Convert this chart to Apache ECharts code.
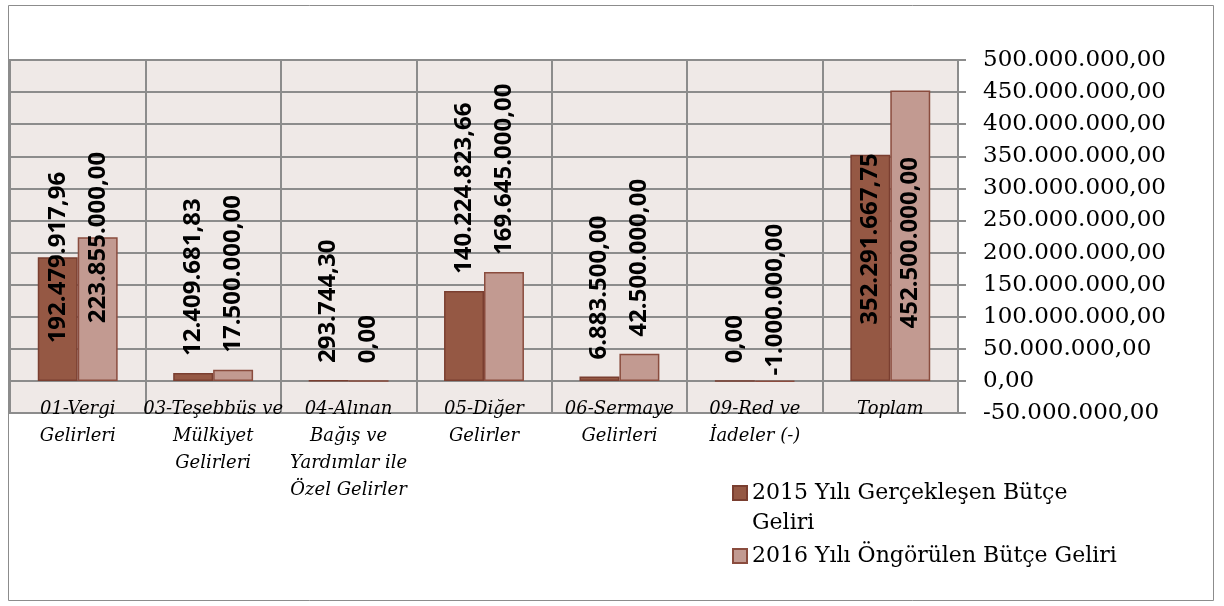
<!DOCTYPE html>
<html>
<head>
<meta charset="utf-8">
<script src="https://cdn.jsdelivr.net/npm/echarts@6/dist/echarts.min.js"></script>
<style>
  html, body { margin: 0; padding: 0; background: #fff; }
  #main { width: 1224px; height: 606px; }
</style>
</head>
<body>
<div id="main"></div>
<script>
// categories and values
const categories = [
  '01-Vergi\nGelirleri',
  '03-Teşebbüs ve\nMülkiyet\nGelirleri',
  '04-Alınan\nBağış ve\nYardımlar ile\nÖzel Gelirler',
  '05-Diğer\nGelirler',
  '06-Sermaye\nGelirleri',
  '09-Red ve\nİadeler (-)',
  'Toplam'
];
const seriesNames = ['2015 Yılı Gerçekleşen Bütçe Geliri', '2016 Yılı Öngörülen Bütçe Geliri'];
const values2015 = [192479917.96, 12409681.83, 293744.30, 140224823.66, 6883500.00, 0, 352291667.75];
const values2016 = [223855000.00, 17500000.00, 0, 169645000.00, 42500000.00, -1000000.00, 452500000.00];

// how far (px) Excel pushed some labels down into the bars
const labelShift2015 = [103, 0, 0, 0, 0, 0, 187];
const labelShift2016 = [103, 0, 0, 0, 0, 12, 255];

const GRID = '#8c8c8c';

function fmt(v) {
  const parts = Math.abs(v).toFixed(2).split('.');
  return (v < 0 ? '-' : '') + parts[0].replace(/\B(?=(\d{3})+(?!\d))/g, '.') + ',' + parts[1];
}

// label is rotated 90deg, so its local x runs up the screen
function barData(values, shifts) {
  return values.map((v, i) => ({ value: v, label: { offset: [-shifts[i], 0] } }));
}

const barLabel = {
  show: true,
  position: 'top',
  rotate: 90,
  align: 'left',
  verticalAlign: 'middle',
  distance: 17,
  fontFamily: 'Open Sans',
  fontWeight: 'bold',
  fontSize: 24,
  color: '#000',
  formatter: p => fmt(p.value)
};

const legendText = { fontFamily: 'DejaVu Serif', fontSize: 22, color: '#000', lineHeight: 30 };

const chart = echarts.init(document.getElementById('main'));
chart.setOption({
  animation: false,
  graphic: [{
    type: 'rect', silent: true, z: -10,
    shape: { x: 8.5, y: 5.5, width: 1205, height: 595 },
    style: { fill: 'none', stroke: GRID, lineWidth: 1 }
  }],
  grid: {
    left: 10, right: 266, top: 60, bottom: 193,
    show: true, backgroundColor: '#efe9e7', borderColor: GRID, borderWidth: 2
  },
  legend: [{
    orient: 'vertical', left: 727, top: 473,
    data: [{ name: seriesNames[0], icon: 'path://M0,0H14V14H0Z M0,44L0,44' }],
    itemWidth: 14, itemHeight: 44, itemGap: 6,
    formatter: () => '2015 Yılı Gerçekleşen Bütçe\nGeliri',
    textStyle: legendText
  }, {
    orient: 'vertical', left: 727, top: 536,
    data: [{ name: seriesNames[1], icon: 'rect' }],
    itemWidth: 14, itemHeight: 14, itemGap: 6,
    textStyle: legendText
  }],
  xAxis: {
    type: 'category',
    data: categories,
    position: 'bottom',
    axisLine: { show: true, onZero: false, lineStyle: { color: GRID, width: 2 } },
    axisTick: { show: false },
    splitLine: { show: true, lineStyle: { color: GRID, width: 2 } },
    axisLabel: {
      interval: 0, margin: -17,
      fontFamily: 'DejaVu Serif', fontStyle: 'italic', fontSize: 18, lineHeight: 27, color: '#000'
    }
  },
  yAxis: {
    type: 'value',
    position: 'right',
    min: -50000000, max: 500000000, interval: 50000000,
    axisLine: { show: true, lineStyle: { color: GRID, width: 2 } },
    axisTick: { show: true, length: 8, lineStyle: { color: GRID, width: 2 } },
    splitLine: { show: true, lineStyle: { color: GRID, width: 2 } },
    axisLabel: {
      margin: 25, fontFamily: 'DejaVu Serif', fontSize: 23, color: '#000',
      formatter: v => fmt(v)
    }
  },
  series: [{
    name: seriesNames[0],
    type: 'bar',
    data: barData(values2015, labelShift2015),
    barGap: '0%',
    barCategoryGap: '41%',
    itemStyle: { color: '#955844', borderColor: '#7a3e30', borderWidth: 1.5 },
    label: barLabel
  }, {
    name: seriesNames[1],
    type: 'bar',
    data: barData(values2016, labelShift2016),
    barGap: '0%',
    barCategoryGap: '41%',
    itemStyle: { color: '#c29a91', borderColor: '#8a4c3e', borderWidth: 1.5 },
    label: barLabel
  }]
});
</script>
</body>
</html>
